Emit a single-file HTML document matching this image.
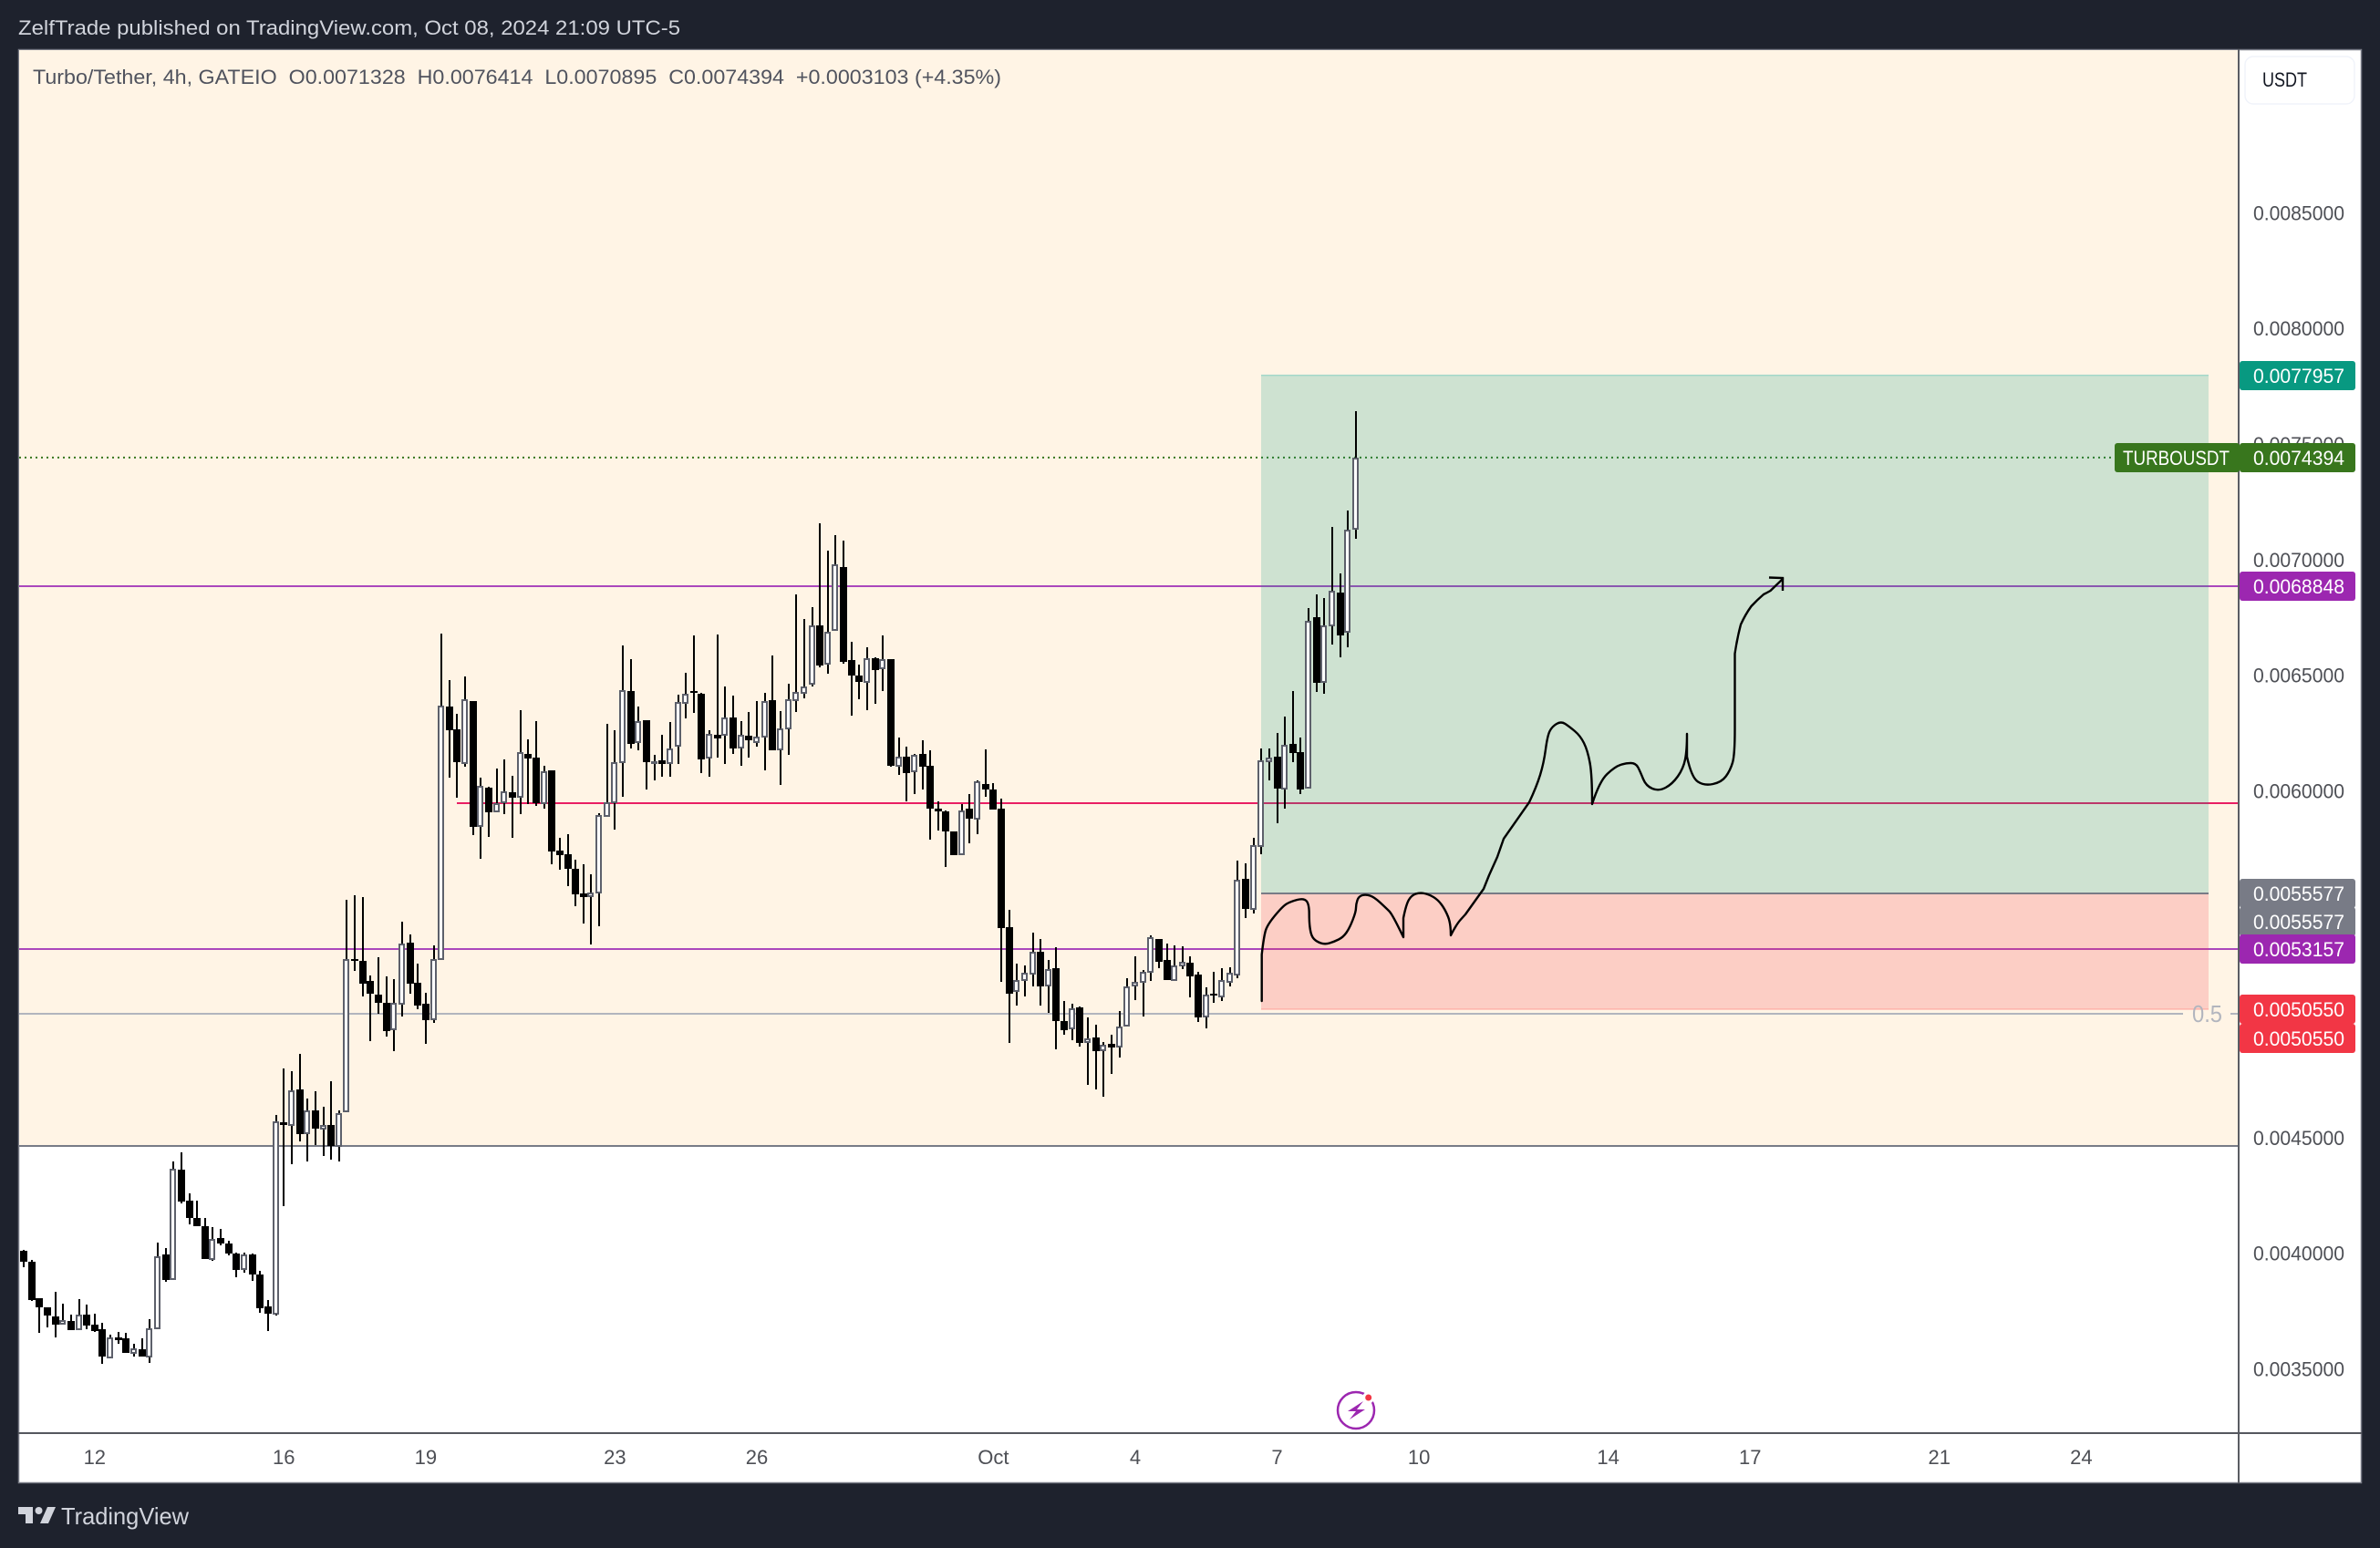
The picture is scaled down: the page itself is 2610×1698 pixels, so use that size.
<!DOCTYPE html>
<html lang="en">
<head>
<meta charset="utf-8">
<title>Turbo/Tether 4h chart</title>
<style>
html,body{margin:0;padding:0;background:#1e222d;width:2610px;height:1698px;overflow:hidden}
svg{display:block}
text{font-family:"Liberation Sans",sans-serif}
</style>
</head>
<body>
<svg id="chart" xmlns="http://www.w3.org/2000/svg" width="2610" height="1698" viewBox="0 0 2610 1698">
  <rect x="0" y="0" width="2610" height="1698" fill="#1e222d"/>
  <text x="20" y="38" font-size="22" fill="#d1d4dc" textLength="726" lengthAdjust="spacingAndGlyphs">ZelfTrade published on TradingView.com, Oct 08, 2024 21:09 UTC-5</text>
  <rect x="20.5" y="54.5" width="2569" height="1572" fill="#ffffff" stroke="#787b86" stroke-width="1.5"/>
  <g id="zones"></g>
  <g id="levels"></g>
  <g id="position"></g>
  <g id="candles"></g>
  <path fill="none" stroke="#000" stroke-width="2.4" stroke-linejoin="round" stroke-linecap="round" d="M1383.7 1098 L1383.7 1047 Q1386 1027 1388 1020.5 Q1390 1014 1398.4 1004 Q1406.7 994 1410.9 991.5 Q1415 989 1422.5 987 Q1430 985 1432.9 988.5 Q1435.7 992 1435.7 1002.5 Q1435.7 1013 1436.9 1020 Q1438 1027 1441 1030 Q1444 1033 1448.5 1034.5 Q1453 1036 1458 1034.5 Q1463 1033 1468 1030.5 Q1473 1028 1476.5 1023 Q1480 1018 1483.5 1009 Q1487 1000 1487 996 Q1487 992 1488.5 987.5 Q1490 983 1494 982 Q1498 981 1502.5 982.5 Q1507 984 1513.5 990 Q1520 996 1523.5 999.5 Q1527 1003 1539 1028 L1539 1007 Q1542 992 1545 987 Q1548 982 1552.5 980.5 Q1557 979 1562 980 Q1567 981 1572 984 Q1577 987 1581 992.5 Q1585 998 1588 1005.5 Q1591 1013 1591 1026 Q1597 1014 1602 1008.5 L1607 1003 L1627 975 L1633 960 L1642 940 L1649 920 L1677 880 Q1685 863 1689 850 Q1693 837 1695 822 Q1697 807 1699.5 802 Q1702 797 1707 794 Q1712 791 1716.5 794 Q1721 797 1727 802 Q1733 807 1737 815 Q1741 823 1743.5 836.5 Q1746 850 1746 882 Q1754 857 1762.5 849 Q1771 841 1777 839 Q1783 837 1788.5 837 Q1794 837 1796.5 842 Q1799 847 1802 854.5 Q1805 862 1812 865 Q1819 868 1826.5 864 Q1834 860 1840 851.5 Q1846 843 1848 833 Q1850 823 1850 805 L1850 830 Q1855 853 1862 857.5 Q1869 862 1878.5 860 Q1888 858 1892.75 851.5 Q1897.5 845 1900 836.5 Q1902.5 828 1902.5 800 L1902.5 717 Q1905 700 1909 685 Q1914 674 1920.5 665 Q1927 658 1934 652 Q1938 650 1941.5 648 L1955 635"/>
  <polyline fill="none" stroke="#000" stroke-width="2.4" points="1940,633.5 1955,634 1955,648"/>
  <text x="2404" y="1121" font-size="26" fill="#b2b5be" textLength="33" lengthAdjust="spacingAndGlyphs">0.5</text>
  <rect x="2454" y="54" width="2" height="1573" fill="#5a5c63"/>
  <rect x="20" y="1571" width="2570" height="2" fill="#55575e"/>
  <g id="price-axis"></g>
  <g id="tags"></g>
  <g id="time-axis"></g>
  <text x="36" y="92" font-size="22" fill="#50535e" textLength="1062" lengthAdjust="spacingAndGlyphs" xml:space="preserve">Turbo/Tether, 4h, GATEIO  O0.0071328  H0.0076414  L0.0070895  C0.0074394  +0.0003103 (+4.35%)</text>
  <g>
    <rect x="2462" y="62" width="120" height="52" rx="9" fill="#fff" stroke="#f0f3fa" stroke-width="1.5"/>
    <text x="2481" y="95" font-size="22" fill="#131722" textLength="49" lengthAdjust="spacingAndGlyphs">USDT</text>
  </g>
  <g>
    <circle cx="1487" cy="1547" r="20" fill="none" stroke="#9c27b0" stroke-width="2.5"/>
    <polygon points="1495,1537 1478,1548 1487,1548 1480,1557 1497,1546 1488,1546" fill="#9c27b0"/>
    <circle cx="1500.7" cy="1533" r="5" fill="#f23645" stroke="#fff" stroke-width="3"/>
  </g>
  <g>
    <path d="M20 1653H36V1671H28V1661H20Z" fill="#d1d4dc"/>
    <circle cx="42.5" cy="1657" r="4" fill="#d1d4dc"/>
    <path d="M52 1653H61L53 1671H44Z" fill="#d1d4dc"/>
    <text x="67" y="1672" font-size="26" fill="#d1d4dc" textLength="140" lengthAdjust="spacingAndGlyphs">TradingView</text>
  </g>
</svg>
<script>
// Prices are stored in millionths of USDT.
const opens = [
4011,3964,3806,3767,3727,3696,3707,3672,3735,3692,
3672,3550,3637,3633,3570,3585,3554,3676,3995,3889,
4362,4228,4153,4118,3976,4066,4043,3999,3932,3995,
3909,3771,3739,4567,4555,4709,4520,4618,4539,4555,
4465,4614,5273,5265,5178,5119,5083,4969,5080,5344,
5170,5080,5013,5273,6365,6266,6120,6389,5848,6014,
5912,5951,5994,5975,6160,6144,5947,6089,5742,5726,
5663,5557,5545,5561,5892,5951,6124,6432,6211,6306,
6120,6132,6120,6195,6381,6432,6420,6144,6243,6243,
6318,6187,6239,6211,6235,6393,6179,6270,6393,6424,
6463,6716,6550,6696,6968,6566,6499,6471,6574,6530,
6570,6109,6148,6085,6160,6109,5923,5912,5825,5726,
5923,5880,6030,6006,5923,5411,5135,5182,5210,5304,
5158,5233,5005,4973,5064,4914,4934,4878,4906,4894,
4985,5158,5174,5218,5359,5269,5182,5245,5257,5206,
5024,5123,5111,5174,5206,5620,5490,5761,6128,6148,
6010,6203,6168,6014,6751,6471,6716,6858,6688,7133];
const highs = [
4015,3972,3806,3767,3834,3782,3735,3802,3778,3739,
3700,3648,3660,3656,3609,3633,3715,4047,4023,4397,
4437,4260,4228,4153,4114,4106,4054,4003,4003,3999,
3924,3798,4599,4800,4788,4863,4670,4701,4634,4744,
4618,5529,5549,5541,5202,5281,5198,5186,5434,5379,
5253,5127,5332,6680,6479,6333,6495,6389,6057,6018,
6097,6136,6065,6349,6223,6302,6109,6089,5797,5813,
5702,5683,5639,5904,6290,6262,6629,6570,6365,6306,
6156,6243,6298,6416,6511,6672,6424,6262,6676,6452,
6412,6302,6341,6389,6424,6585,6345,6463,6850,6743,
6795,7157,7037,7106,7082,6645,6546,6621,6578,6672,
6570,6231,6191,6160,6219,6175,5955,5916,5825,5943,
5986,6045,6179,6034,5967,5486,5253,5245,5387,5359,
5269,5324,5091,5080,5068,5020,4989,4914,4945,5048,
5190,5285,5225,5375,5359,5340,5332,5328,5285,5218,
5151,5218,5233,5237,5698,5687,5797,6183,6183,6250,
6321,6432,6231,6791,6850,6834,7142,6940,7213,7641];
const lows = [
3940,3794,3656,3680,3637,3696,3668,3672,3672,3660,
3522,3550,3609,3570,3554,3554,3526,3676,3877,3889,
4216,4125,4118,3976,3968,4035,3991,3897,3916,3881,
3743,3664,3731,4204,4386,4484,4397,4468,4421,4405,
4397,4614,5222,5111,4918,5036,4938,4875,5024,5123,
5056,4906,4997,5273,6057,5970,6105,5809,5706,5801,
5912,5900,5797,5900,5943,5935,5924,5683,5659,5588,
5501,5426,5336,5415,5888,5833,5975,6183,6175,6006,
6045,6061,6061,6116,6314,6337,6077,6061,6144,6116,
6160,6109,6144,6191,6089,6175,6026,6156,6341,6400,
6452,6534,6507,6696,6550,6325,6397,6349,6377,6432,
6105,6069,5955,5986,6006,5789,5829,5671,5722,5726,
5774,5813,5975,5920,5175,4910,5072,5111,5154,5072,
5040,4882,4945,4922,4894,4729,4709,4677,4776,4847,
4985,5095,5024,5178,5233,5182,5182,5229,5107,5001,
4973,5083,5091,5154,5190,5450,5470,5726,6045,5860,
5923,6124,5986,6014,6428,6420,6633,6578,6621,7090];
const closes = [
3964,3798,3767,3731,3692,3711,3668,3735,3688,3664,
3554,3637,3625,3570,3589,3554,3676,3987,3885,4366,
4224,4153,4118,3976,4062,4043,3999,3928,3995,3909,
3763,3739,4571,4555,4705,4516,4618,4539,4555,4465,
4606,5273,5265,5166,5123,5083,4961,5083,5340,5166,
5072,5009,5273,6369,6262,6124,6397,5844,6022,5908,
5947,5998,5970,6168,6140,5947,6085,5738,5722,5663,
5553,5541,5561,5896,5951,6124,6436,6203,6302,6124,
6128,6116,6183,6384,6420,6424,6136,6246,6227,6318,
6183,6243,6219,6235,6389,6175,6270,6397,6428,6452,
6716,6542,6688,6979,6558,6499,6471,6574,6522,6570,
6109,6148,6077,6156,6105,5923,5912,5825,5722,5916,
5880,6041,6006,5920,5407,5123,5182,5214,5304,5154,
5229,5005,4965,5060,4910,4930,4875,4902,4890,4981,
5154,5174,5218,5367,5261,5182,5245,5261,5198,5020,
5119,5115,5182,5214,5616,5490,5765,6132,6144,6010,
6199,6164,6006,6735,6467,6716,6866,6672,7130,7439];

const priceTicks = ["0.0085000","0.0080000","0.0075000","0.0070000","0.0065000","0.0060000","0.0055000","0.0050000","0.0045000","0.0040000","0.0035000"];
const timeTickLabels = ["12","16","19","23","26","Oct","4","7","10","14","17","21","24"];
const timeTickBars = [9,33,51,75,93,123,141,159,177,201,219,243,261];
const purpleLevels = [0.0068848,0.0053157];
const resistanceLevel = 0.005947;
const fibLevel = 0.0050362;
const zoneFloor = 0.004465;
const lastPrice = 0.0074394;
const targetPrice = 0.0077957;
const entryPrice = 0.0055577;
const stopPrice = 0.0050550;

const SVG_NS = "http://www.w3.org/2000/svg";
const PRICE_UNIT = 1e-6;
function yOf(price){ return 643 + (0.0068848 - price) * 253650; }
function xOf(bar){ return 26 + bar * 8.645; }
function make(tag, parent, attrs){
  const el = document.createElementNS(SVG_NS, tag);
  for (const k in attrs) el.setAttribute(k, attrs[k]);
  parent.appendChild(el);
  return el;
}

/* zones */
const zones = document.getElementById("zones");
const creamZone = make("rect", zones, {x:21, y:55, width:2433, height:yOf(zoneFloor)-55, fill:"#fff4e5"});


const creamEdge = make("rect", zones, {x:21, y:Math.round(yOf(zoneFloor))-1, width:2433, height:2, fill:"#787b86"});



/* levels */
const levels = document.getElementById("levels");
purpleLevels.forEach(function(p){
  const line = make("rect", levels, {x:21, y:Math.round(yOf(p))-1, width:2433, height:2, fill:"#ab47bc"});
  
  
});
const pinkLine = make("rect", levels, {x:501, y:Math.round(yOf(resistanceLevel))-1, width:1953, height:2, fill:"#e91e63"});


const fibLeft = make("rect", levels, {x:21, y:Math.round(yOf(fibLevel))-1, width:2373, height:2, fill:"#b2b5be"});


const fibRight = make("rect", levels, {x:2446, y:Math.round(yOf(fibLevel))-1, width:8, height:2, fill:"#b2b5be"});


const lastLine = make("line", levels, {x1:21, x2:2319, y1:yOf(lastPrice)-0.5, y2:yOf(lastPrice)-0.5, stroke:"#38761d", "stroke-width":2, "stroke-dasharray":"2 4"});



/* position box */
const position = document.getElementById("position");
const profit = make("rect", position, {x:1383, y:yOf(targetPrice), width:1039, height:yOf(entryPrice)-yOf(targetPrice), fill:"#089981", "fill-opacity":0.2});


const loss = make("rect", position, {x:1383, y:yOf(entryPrice), width:1039, height:yOf(stopPrice)-yOf(entryPrice), fill:"#f23645", "fill-opacity":0.2});


const entry = make("rect", position, {x:1383, y:Math.round(yOf(entryPrice))-1, width:1039, height:2, fill:"#787b86"});


const targetEdge = make("rect", position, {x:1383, y:yOf(targetPrice)-1, width:1039, height:1.5, fill:"#a3d8c9"});


const stopEdge = make("rect", position, {x:1383, y:yOf(stopPrice)-1, width:1039, height:1.5, fill:"#ffb3ab"});



/* candles */
const candles = document.getElementById("candles");
opens.forEach(function(open, i){
  const close = closes[i];
  const cx = Math.round(xOf(i));
  const up = close >= open;
  const hi = Math.round(yOf(highs[i] * PRICE_UNIT));
  const lo = Math.round(yOf(lows[i] * PRICE_UNIT));
  const top = Math.round(yOf(Math.max(open, close) * PRICE_UNIT));
  const bot = Math.round(yOf(Math.min(open, close) * PRICE_UNIT));
  const h = Math.max(bot - top, 2);
  const wick = make("rect", candles, {x:cx-1, y:hi, width:2, height:Math.max(lo-hi,1), fill:"#000", "shape-rendering":"crispEdges"});
  
  
  let body;
  if (up) {
    if (h >= 4) {
      body = make("rect", candles, {x:cx-3, y:top+1, width:5, height:h-2+1, fill:"#fff", stroke:"#5d606b", "stroke-width":2, "shape-rendering":"crispEdges"});
    } else {
      body = make("rect", candles, {x:cx-4, y:top, width:7, height:h+1, fill:"#5d606b", "shape-rendering":"crispEdges"});
    }
  } else {
    body = make("rect", candles, {x:cx-4, y:top, width:8, height:h, fill:"#000", "shape-rendering":"crispEdges"});
  }
  
  
});

/* price axis */
const priceAxis = document.getElementById("price-axis");
priceTicks.forEach(function(label){
  const t = make("text", priceAxis, {x:2471, y:yOf(parseFloat(label))+8, "font-size":22, fill:"#4d4f55", textLength:100, lengthAdjust:"spacingAndGlyphs"});
  
  
  t.textContent = label;
});

/* price tags */
const tags = document.getElementById("tags");
const tagTexts = ["0.0077957","0.0074394","0.0068848","0.0055577","0.0055577","0.0053157","0.0050550","0.0050550"];
const tagColors = ["#089981","#38761d","#9c27b0","#787b86","#787b86","#9c27b0","#f23645","#f23645"];
const tagNudges = [0,0,0,0,31,0,0,32];
tagTexts.forEach(function(label, i){
  const cy = Math.round(yOf(parseFloat(label))) + tagNudges[i];
  const box = make("rect", tags, {x:2456, y:cy-16, width:127, height:32, rx:3, fill:tagColors[i]});
  
  
  const t = make("text", tags, {x:2471, y:cy+8, "font-size":22, fill:"#fff", textLength:100, lengthAdjust:"spacingAndGlyphs"});
  
  
  t.textContent = label;
});
const symY = Math.round(yOf(lastPrice));
const symBox = make("rect", tags, {x:2319, y:symY-16, width:137, height:32, rx:3, fill:"#38761d"});


const symText = make("text", tags, {x:2328, y:symY+8, "font-size":22, fill:"#fff", textLength:117, lengthAdjust:"spacingAndGlyphs"});


symText.textContent = "TURBOUSDT";

/* time axis */
const timeAxis = document.getElementById("time-axis");
timeTickLabels.forEach(function(label, i){
  const t = make("text", timeAxis, {x:xOf(timeTickBars[i]), y:1606, "font-size":22, fill:"#4d4f55", "text-anchor":"middle"});
  
  
  t.textContent = label;
});
</script>
</body>
</html>
